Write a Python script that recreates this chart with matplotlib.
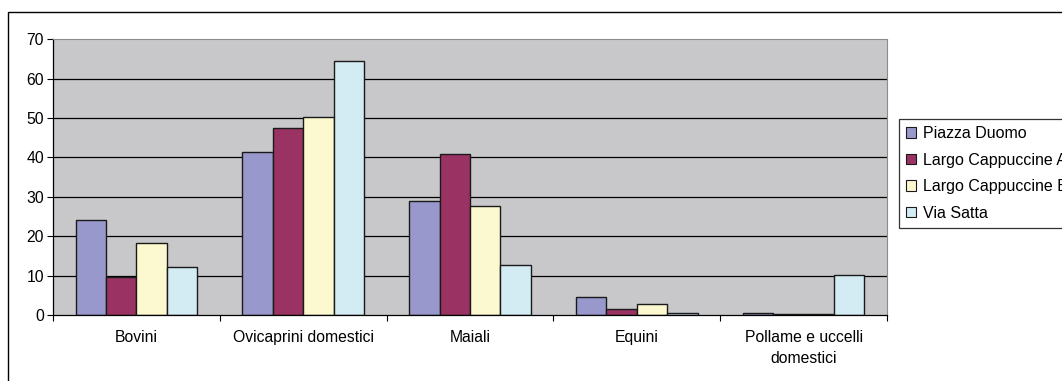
import numpy as np
import matplotlib
matplotlib.use("Agg")
import matplotlib.pyplot as plt
from matplotlib.patches import Rectangle

categories = ["Bovini", "Ovicaprini domestici", "Maiali", "Equini",
              "Pollame e uccelli\ndomestici"]
series_names = ["Piazza Duomo", "Largo Cappuccine A", "Largo Cappuccine B", "Via Satta"]
piazza_duomo = [24.1, 41.5, 29.0, 4.6, 0.6]
largo_cappuccine_a = [9.7, 47.4, 41.0, 1.4, 0.2]
largo_cappuccine_b = [18.4, 50.3, 27.7, 2.7, 0.2]
via_satta = [12.3, 64.4, 12.6, 0.6, 10.2]
y_ticks = [0, 10, 20, 30, 40, 50, 60, 70]

series = [piazza_duomo, largo_cappuccine_a, largo_cappuccine_b, via_satta]
colors = ["#9898CC", "#9A3364", "#FCF8D0", "#D3ECF3"]

plt.rcParams["font.family"] = ["Liberation Sans", "DejaVu Sans"]

fig = plt.figure(figsize=(10.62, 3.81), dpi=100)
ax = fig.add_axes([53 / 1062, 1 - 315 / 381, (887 - 53) / 1062, (315 - 39.3) / 381])
ax.set_facecolor("#C8C8CA")

x = np.arange(len(categories))
bar_w = 0.182
for i, (vals, col, name) in enumerate(zip(series, colors, series_names)):
    offs = (i - 1.5) * bar_w
    ax.bar(x + offs, vals, width=bar_w, color=col, edgecolor="#1a1a1a",
           linewidth=1.0, label=name, zorder=3)

ax.set_xlim(-0.5, len(categories) - 0.5)
ax.set_ylim(0, 70)
ax.set_yticks(y_ticks)
ax.tick_params(axis="y", direction="out", length=4.5, width=0.8, labelsize=11.3,
               pad=2, colors="black")

# category boundaries carry the tick marks, centres carry the labels
ax.set_xticks(np.arange(-0.5, len(categories)), labels=[""] * (len(categories) + 1))
ax.set_xticks(x, labels=categories, minor=True)
ax.tick_params(axis="x", which="major", direction="out", length=4.5, width=0.8)
ax.tick_params(axis="x", which="minor", length=0, pad=11, labelsize=11.3)
for lbl in ax.get_xticklabels(minor=True):
    lbl.set_linespacing(1.5)

for y in y_ticks[1:-1]:
    ax.axhline(y, color="black", linewidth=0.9, zorder=1)

ax.spines["left"].set_color("black")
ax.spines["bottom"].set_color("black")
ax.spines["left"].set_linewidth(0.9)
ax.spines["bottom"].set_linewidth(0.9)
ax.spines["top"].set_color("#8c8c8c")
ax.spines["right"].set_color("#8c8c8c")
ax.spines["bottom"].set_zorder(4)

# outer chart frame, running past the right and lower edges
fig.patches.append(Rectangle((7.5 / 1062, -0.2), 1.5, 1 - 12.3 / 381 + 0.2,
                             transform=fig.transFigure, fill=False,
                             edgecolor="black", linewidth=1.0))

leg = fig.legend(loc="upper left", bbox_to_anchor=(899 / 1062, 1 - 119 / 381),
                 bbox_transform=fig.transFigure, fontsize=11.5, frameon=True,
                 fancybox=False, handlelength=0.6, handleheight=0.6,
                 handletextpad=0.45, labelspacing=0.72, borderpad=0.45,
                 borderaxespad=0)
leg.get_frame().set_edgecolor("black")
leg.get_frame().set_linewidth(0.9)
for h in leg.legend_handles:
    h.set_linewidth(0.8)

fig.savefig("out.png", dpi=100)
